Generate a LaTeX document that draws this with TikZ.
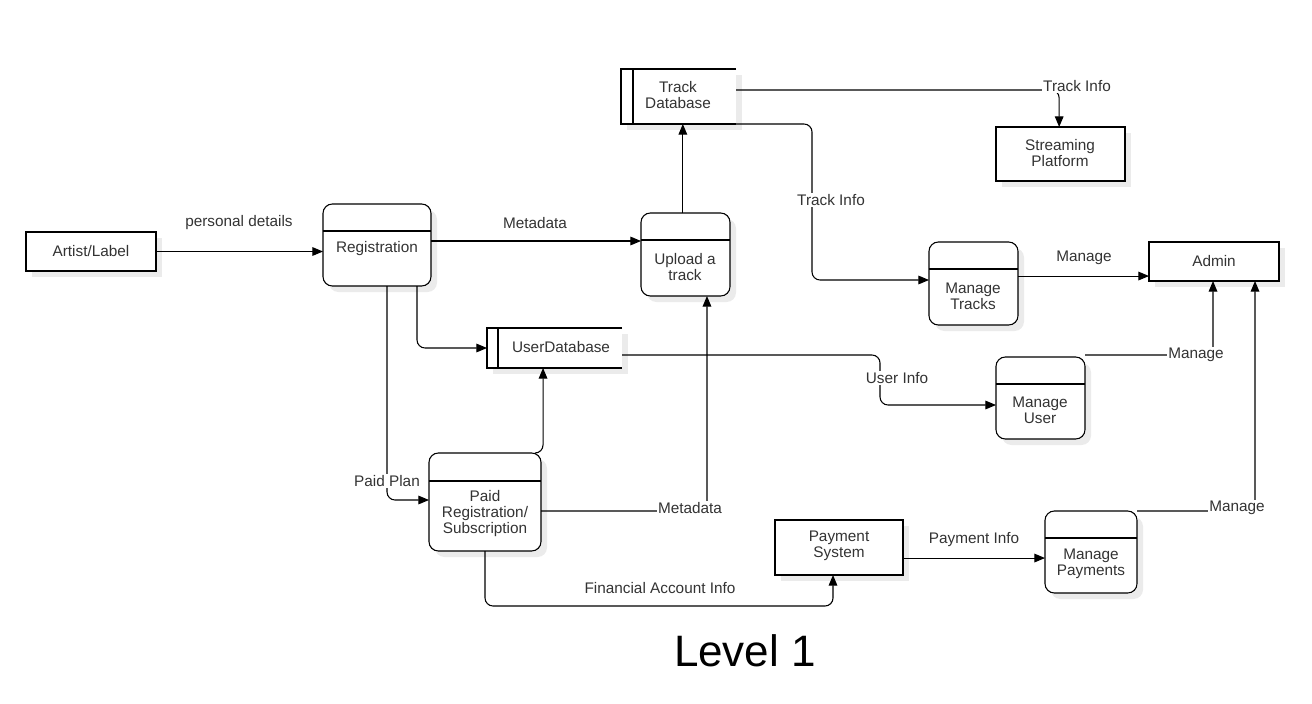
\documentclass[tikz,border=0pt]{standalone}
\usepackage{fontspec}
\setmainfont{Liberation Sans}
\usetikzlibrary{arrows.meta,shadows}
\begin{document}
\begin{tikzpicture}[x=0.75pt,y=-0.75pt,
  font=\fontsize{11.5}{12}\selectfont, text=black!80,
  shad/.style={drop shadow={shadow xshift=4.5pt,shadow yshift=-4.5pt,fill=black!8,opacity=1}},
  ent/.style={draw,line width=0.8pt,fill=white,inner sep=0pt,outer sep=0pt,shad},
  proc/.style={ent,rounded corners=7pt},
  store/.style={fill=white,inner sep=0pt,outer sep=0pt,shad},
  txt/.style={align=center,inner sep=1pt},
  lab/.style={inner sep=1pt,fill=white},
  conn/.style={line width=0.8pt,rounded corners=6pt},
  arr/.style={conn,-{Triangle[length=8pt,width=6.5pt]}}
]
\useasboundingbox (0,0) rectangle (1312,703);

% entities
\node[ent,minimum width=97.5pt,minimum height=29.25pt] (artist) at (91,251.5) {};
\node[ent,minimum width=96.75pt,minimum height=40.5pt] (stream) at (1060.5,154) {};
\node[ent,minimum width=97.5pt,minimum height=29.25pt] (admin) at (1214,261.5) {};
\node[ent,minimum width=96pt,minimum height=41.25pt] (paysys) at (839,547.5) {};

% processes
\node[proc,minimum width=81pt,minimum height=61.5pt] (reg) at (377,245) {};
\node[proc,minimum width=66.75pt,minimum height=62.25pt] (upload) at (685.5,254.5) {};
\node[proc,minimum width=66.75pt,minimum height=62.25pt] (mtracks) at (973.5,283.5) {};
\node[proc,minimum width=66.75pt,minimum height=61.5pt] (muser) at (1040.5,398) {};
\node[proc,minimum width=84pt,minimum height=73.5pt] (paid) at (485,502) {};
\node[proc,minimum width=69pt,minimum height=61.5pt] (mpay) at (1091,552) {};

% header lines
\draw[line width=0.8pt] (reg.west |- 0,231) -- (reg.east |- 0,231);
\draw[line width=0.8pt] (upload.west |- 0,240) -- (upload.east |- 0,240);
\draw[line width=0.8pt] (mtracks.west |- 0,269) -- (mtracks.east |- 0,269);
\draw[line width=0.8pt] (muser.west |- 0,384) -- (muser.east |- 0,384);
\draw[line width=0.8pt] (paid.west |- 0,481) -- (paid.east |- 0,481);
\draw[line width=0.8pt] (mpay.west |- 0,538) -- (mpay.east |- 0,538);

% data stores
\node[store,minimum width=86.25pt,minimum height=41.25pt] (trackdb) at (678.5,96.5) {};
\draw[line width=0.8pt] (trackdb.north east) -- (trackdb.north west) -- (trackdb.south west) -- (trackdb.south east);
\draw[line width=0.8pt] ([xshift=9pt]trackdb.north west) -- ([xshift=9pt]trackdb.south west);
\node[store,minimum width=101.25pt,minimum height=30pt] (userdb) at (554.5,348) {};
\draw[line width=0.8pt] (userdb.north east) -- (userdb.north west) -- (userdb.south west) -- (userdb.south east);
\draw[line width=0.8pt] ([xshift=8.25pt]userdb.north west) -- ([xshift=8.25pt]userdb.south west);

% texts
\node[txt] (tartist) at (91,251) {Artist/Label};
\node[txt] (tstream) at (1060,153) {Streaming\\Platform};
\node[txt] (tadmin) at (1214,261) {Admin};
\node[txt] (tpaysys) at (839,546) {Payment\\System};
\node[txt] (treg) at (377,249) {Registration};
\node[txt] (tupload) at (685,267) {Upload a\\track};
\node[txt] (tmtracks) at (973,296) {Manage\\Tracks};
\node[txt] (tmuser) at (1040,410) {Manage\\User};
\node[txt] (tpaid) at (485,514) {Paid\\Registration/\\Subscription};
\node[txt] (tmpay) at (1091,564) {Manage\\Payments};
\node[txt] (ttrackdb) at (678,95) {Track\\Database};
\node[txt] (tuserdb) at (561,347) {UserDatabase};

% connectors
\draw[arr] (artist.east) -- (artist.east -| reg.west);
\draw[arr] ([yshift=3pt]reg.east) -- ([yshift=3pt]reg.east -| upload.west);
\draw[arr] ([xshift=30pt]reg.south) |- (userdb.west);
\draw[arr] ([xshift=7.5pt]reg.south) |- ([yshift=1.5pt]paid.west);
\draw[arr] ([xshift=-4pt]paid.north east) -| ([xshift=-8.6pt]userdb.south);
\draw[arr] ([yshift=-6.75pt]paid.east) -| ([xshift=16.1pt]upload.south);
\coordinate (fa) at (833,606);
\draw[arr] (paid.south) |- (fa) -- (fa |- paysys.south);
\draw[arr,rounded corners=0pt] ([xshift=-2pt]upload.north) -- ([xshift=-2pt]upload.north |- trackdb.south);
\draw[arr] ([yshift=4.9pt]trackdb.east) -| ([xshift=-1pt]stream.north);
\coordinate (tc) at (812,280);
\draw[arr] (trackdb.south east) -| (tc) -- (tc -| mtracks.west);
\draw[arr] ([yshift=5.6pt]mtracks.east) -- ([yshift=5.6pt]mtracks.east -| admin.west);
\coordinate (ui) at (880,380);
\draw[arr] ([yshift=-5.25pt]userdb.east) -| (ui) |- ([yshift=-5.25pt]muser.west);
\draw[arr] ([yshift=1.5pt]muser.north east) -| ([xshift=-0.75pt]admin.south);
\draw[arr] ([yshift=-7.9pt]paysys.east) -- ([yshift=-7.9pt]paysys.east -| mpay.west);
\draw[arr] (mpay.north east) -| ([xshift=30.75pt]admin.south);

% labels
\node[inner sep=1pt] (l1) at (239,223) {personal details};
\node[inner sep=1pt] (l2) at (535,223) {Metadata};
\node[lab] (l3) at (387,481) {Paid Plan};
\node[lab] (l4) at (690,508) {Metadata};
\node[inner sep=1pt] (l5) at (660,588) {Financial Account Info};
\node[lab] (l6) at (1077,86) {Track Info};
\node[lab] (l7) at (831,200) {Track Info};
\node[inner sep=1pt] (l8) at (1084,258) {Manage};
\node[lab] (l9) at (897,378) {User Info};
\node[lab] (l10) at (1196,355) {Manage};
\node[inner sep=1pt] (l11) at (974,540) {Payment Info};
\node[lab] (l12) at (1237,508) {Manage};

\node[font=\fontsize{33}{38}\selectfont,text=black] (title) at (745,651) {Level 1};
\end{tikzpicture}
\end{document}
